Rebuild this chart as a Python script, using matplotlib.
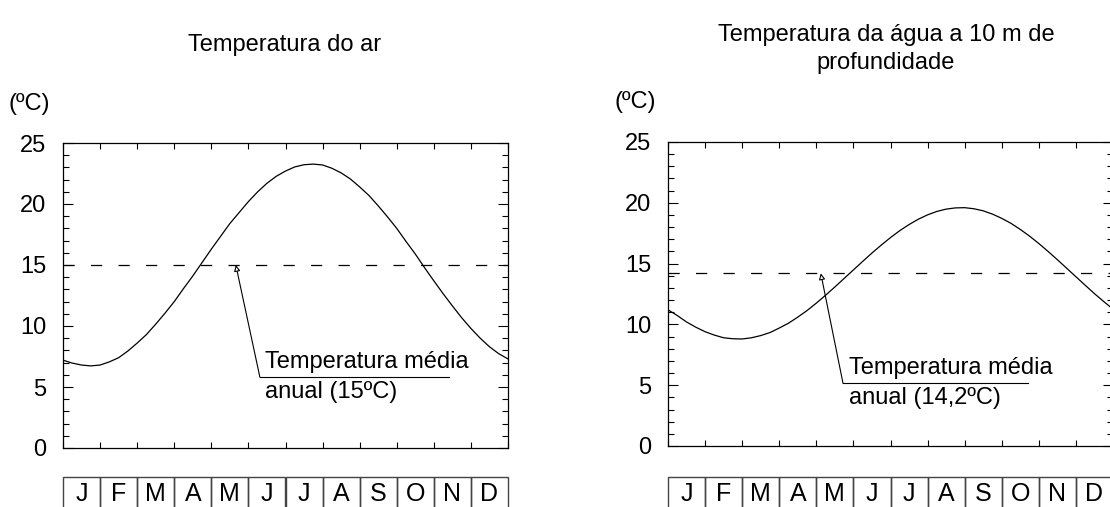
import matplotlib.pyplot as plt
from matplotlib.patches import Rectangle

plt.rcParams['font.family'] = ['Liberation Sans', 'DejaVu Sans']

# meses (caixas por baixo dos gráficos)
meses = ['J', 'F', 'M', 'A', 'M', 'J', 'J', 'A', 'S', 'O', 'N', 'D']

# posição em meses (leituras a cada quarto de mês)
mes_pos = [0, 0.25, 0.5, 0.75, 1, 1.25, 1.5, 1.75, 2, 2.25, 2.5, 2.75,
           3, 3.25, 3.5, 3.75, 4, 4.25, 4.5, 4.75, 5, 5.25, 5.5, 5.75,
           6, 6.25, 6.5, 6.75, 7, 7.25, 7.5, 7.75, 8, 8.25, 8.5, 8.75,
           9, 9.25, 9.5, 9.75, 10, 10.25, 10.5, 10.75, 11, 11.25, 11.5, 11.75, 12]

# temperatura do ar (ºC)
temp_ar = [7.2, 6.96, 6.8, 6.73, 6.8, 7.06, 7.4, 7.95, 8.6, 9.3, 10.15, 11.05,
           12.0, 13.07, 14.1, 15.2, 16.3, 17.35, 18.4, 19.3, 20.2, 21.0, 21.7, 22.27,
           22.7, 23.04, 23.22, 23.27, 23.2, 22.93, 22.55, 22.05, 21.4, 20.7, 19.85, 18.95,
           18.0, 16.93, 15.9, 14.78, 13.7, 12.65, 11.65, 10.68, 9.8, 9.0, 8.3, 7.73, 7.3]

# temperatura da água a 10 m (ºC)
temp_agua = [11.2, 10.73, 10.2, 9.77, 9.4, 9.12, 8.9, 8.82, 8.8, 8.9, 9.08, 9.33,
             9.7, 10.1, 10.6, 11.14, 11.75, 12.4, 13.08, 13.78, 14.48, 15.18, 15.87, 16.52,
             17.14, 17.71, 18.21, 18.65, 19.01, 19.29, 19.48, 19.58, 19.6, 19.51, 19.34, 19.07,
             18.72, 18.31, 17.81, 17.26, 16.65, 16.0, 15.32, 14.62, 13.92, 13.22, 12.53, 11.88, 11.26]

media_ar = 15.0
media_agua = 14.2

W, H = 1110, 507
fig = plt.figure(figsize=(W / 100, H / 100), dpi=100)


def px_axes(x0, y0, x1, y1):
    # eixos definidos em pixeis da imagem
    return fig.add_axes([x0 / W, 1 - y1 / H, (x1 - x0) / W, (y1 - y0) / H])


def painel(ax, valores, media, linha1, linha2, tip, elbow, x_fim):
    ax.plot(mes_pos, valores, color='black', lw=0.9)
    ax.axhline(media, color='black', lw=0.9, linestyle=(0, (9, 13)))
    ax.set_xlim(0, 12)
    ax.set_ylim(0, 25)
    ax.set_xticks(range(13))
    ax.set_xticklabels([])
    ax.set_yticks(range(0, 26, 5))
    ax.set_yticks(range(0, 26), minor=True)
    ax.tick_params(axis='x', direction='in', top=True, length=4, width=0.8)
    ax.tick_params(axis='y', which='major', direction='in', right=True,
                   length=7, width=0.8, labelsize=17, pad=12)
    ax.tick_params(axis='y', which='minor', direction='in', right=True,
                   length=4, width=0.8)
    for s in ax.spines.values():
        s.set_linewidth(0.9)
    # seta da média anual
    ax.annotate('', xy=(tip, media), xytext=elbow,
                arrowprops=dict(arrowstyle='-|>', fc='white', ec='black',
                                lw=0.8, mutation_scale=9, shrinkA=0, shrinkB=0))
    ax.plot([elbow[0], x_fim], [elbow[1], elbow[1]], color='black', lw=0.8)
    ax.text(elbow[0] + 0.15, elbow[1] + 0.35, linha1, fontsize=17,
            va='bottom', ha='left')
    ax.text(elbow[0] + 0.15, elbow[1] - 0.3, linha2, fontsize=17,
            va='top', ha='left')


def caixas_meses(ax):
    ax.set_xlim(0, 12)
    ax.set_ylim(0, 1)
    ax.axis('off')
    for i, m in enumerate(meses):
        ax.add_patch(Rectangle((i, 0), 1, 1, fill=False, ec='#444444', lw=1.0,
                               clip_on=False))
        ax.text(i + 0.5, 0.55, m, ha='center', va='center', fontsize=18)


ax1 = px_axes(63, 143, 508, 448)
ax2 = px_axes(668, 142, 1113, 446)

painel(ax1, temp_ar, media_ar, 'Temperatura média', 'anual (15ºC)',
       4.66, (5.31, 5.8), 10.41)
painel(ax2, temp_agua, media_agua, 'Temperatura média', 'anual (14,2ºC)',
       4.12, (4.72, 5.15), 9.72)

caixas_meses(px_axes(63, 477, 508, 515))
caixas_meses(px_axes(668, 477, 1113, 515))

fig.text(285 / W, 1 - 45 / H, 'Temperatura do ar', ha='center', va='center', fontsize=17)
fig.text(886 / W, 1 - 49 / H, 'Temperatura da água a 10 m de\nprofundidade',
         ha='center', va='center', fontsize=17, linespacing=1.35)
fig.text(9 / W, 1 - 104 / H, '(ºC)', ha='left', va='center', fontsize=17)
fig.text(614 / W, 1 - 102 / H, '(ºC)', ha='left', va='center', fontsize=17)

fig.savefig('out.png', dpi=100)
